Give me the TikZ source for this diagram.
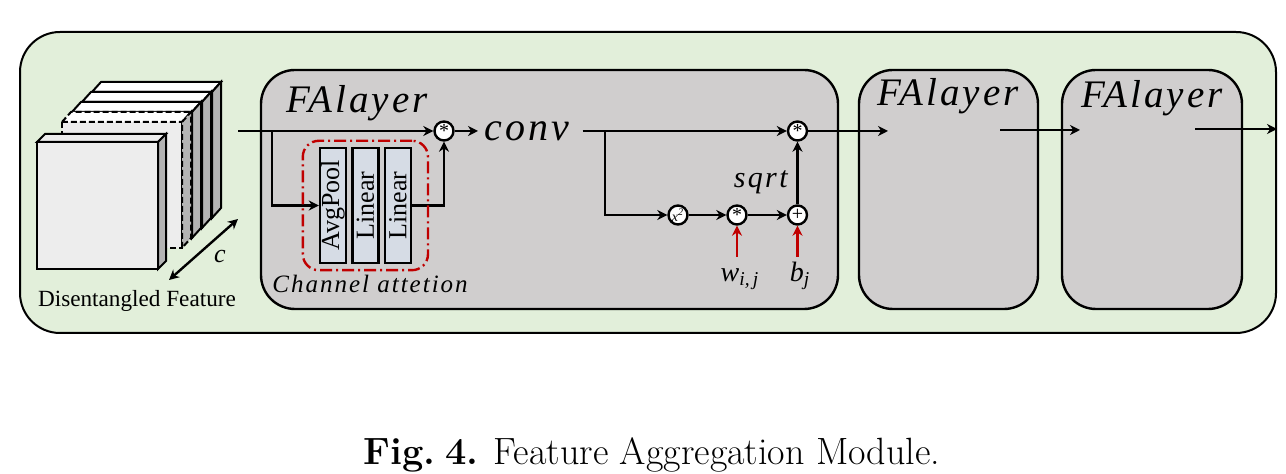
\documentclass[tikz,border=0pt]{standalone}
\usepackage{fontspec}
\newfontfamily\tnr{Liberation Serif}
\newfontfamily\tnrsp[LetterSpace=8]{Liberation Serif}
\usepackage{xcolor}
\usetikzlibrary{arrows.meta, positioning, fit, calc}
\definecolor{panelgreen}{HTML}{E2EFDA}
\definecolor{layergray}{HTML}{D0CECE}
\definecolor{linblue}{HTML}{D6DCE5}
\definecolor{darkred}{HTML}{C00000}
\definecolor{facegray}{HTML}{EDEDED}
\definecolor{sidegray}{HTML}{B4B4B4}
\newcommand{\opstar}{\raisebox{-0.35ex}{*}}

\begin{document}
\begin{tikzpicture}[
    x=0.5pt, y=-0.5pt, line width=1.2pt,
    >={Stealth[length=5pt,width=5pt,inset=1.6pt]},
    arr/.style={->},
    redarr/.style={->, draw=darkred, line width=1.3pt},
    falayer/.style={rectangle, draw, rounded corners=17pt, fill=layergray, minimum height=119.5pt},
    opnode/.style={circle, draw, fill=white, minimum size=9.5pt, inner sep=0pt, font=\tnr\fontsize{10}{10}\selectfont},
    calayer/.style={rectangle, draw, fill=linblue, minimum width=13pt, minimum height=57.5pt, inner sep=0pt, font=\tnr\fontsize{13}{13}\selectfont},
    latitle/.style={font=\tnrsp\itshape\fontsize{19.5}{20}\selectfont, inner sep=0pt},
]
\useasboundingbox (0,0) rectangle (1286,474);

% outer panel
\node[draw, line width=1pt, rounded corners=20pt, fill=panelgreen, minimum width=628pt, minimum height=150.5pt] (panel) at (648,182.5) {};

% feature cube
\begin{scope}[line width=1pt]
\foreach \cx/\cy in {92/92, 82/102, 72/112} {
  \filldraw[fill=facegray] (\cx,\cy) rectangle ++(120,126);
  \filldraw[fill=white] (\cx,\cy) -- ++(9,-10) -- ++(120,0) -- ++(-9,10) -- cycle;
  \filldraw[fill=sidegray] (\cx+120,\cy) -- ++(9,-10) -- ++(0,126) -- ++(-9,10) -- cycle;
}
\filldraw[fill=facegray, dash pattern=on 3pt off 1.5pt] (62,122) rectangle ++(120,126);
\filldraw[fill=white, dash pattern=on 3pt off 1.5pt] (62,122) -- ++(9,-10) -- ++(120,0) -- ++(-9,10) -- cycle;
\filldraw[fill=sidegray, dash pattern=on 3pt off 1.5pt] (182,122) -- ++(9,-10) -- ++(0,126) -- ++(-9,10) -- cycle;
\filldraw[fill=facegray] (37,142) rectangle ++(121,127);
\filldraw[fill=facegray] (37,142) -- ++(8,-8) -- ++(121,0) -- ++(-8,8) -- cycle;
\filldraw[fill=sidegray] (158,142) -- ++(8,-8) -- ++(0,127) -- ++(-8,8) -- cycle;
\end{scope}
\coordinate (cnear) at (169,280);
\coordinate (cfar) at (238,219);
\draw[<->] (cnear) -- (cfar);
\node[font=\tnr\itshape\fontsize{13}{13}\selectfont] (clab) at (220,257) {c};
\node[font=\tnr\fontsize{11.6}{13}\selectfont] (feat) at (137,301) {Disentangled Feature};

% FA layers
\node[falayer, minimum width=288.5pt] (fa1) at (549.5,189.5) {};
\node[latitle] (fa1t) at (357,103) {FAlayer};
\node[falayer, minimum width=89.5pt] (fa2) at (948.5,189.5) {};
\node[latitle] (fa2t) at (948,96) {FAlayer};
\node[falayer, minimum width=90pt] (fa3) at (1152,189.5) {};
\node[latitle] (fa3t) at (1152,98) {FAlayer};

% main flow
\coordinate (featin) at (238,131);
\node[opnode] (mulA) at (444,131) {\opstar};
\node[font=\tnrsp\itshape\fontsize{20}{20}\selectfont, inner sep=0pt, anchor=west] (conv) at (483,131) {conv};
\draw[arr] (featin) -- (mulA);
\draw[arr, shorten >=2.5pt] (mulA) -- (conv);
\node[opnode] (mulB) at (797.5,131) {\opstar};
\draw[arr, shorten <=6pt] (conv) -- (mulB);
\coordinate (split) at (605,131);
\node[opnode, font=\tnr\fontsize{7}{7}\selectfont] (sq) at (678,215) {\itshape x\textsuperscript{2}};
\node[opnode] (mulC) at (737,215) {\opstar};
\node[opnode] (add) at (797.5,215) {+};
\draw[arr] (split) |- (sq);
\draw[arr] (sq) -- (mulC);
\draw[arr] (mulC) -- (add);
\draw[arr] (add) -- node[pos=0.35, left=1pt, font=\tnrsp\itshape\fontsize{15}{15}\selectfont] (sqrtlab) {sqrt} (mulB);

% weights and bias
\coordinate (wsrc) at (737,257);
\coordinate (bsrc) at (797.5,257);
\draw[redarr] (wsrc) -- (mulC);
\draw[redarr] (bsrc) -- (add);
\node[font=\tnr\itshape\fontsize{14}{14}\selectfont] (wlab) at (740,279) {w\textsubscript{i,\,j}};
\node[font=\tnr\itshape\fontsize{14}{14}\selectfont] (blab) at (800,276) {b\textsubscript{j}};

% outputs
\coordinate (fa2in) at (888,131);
\coordinate (fa2out) at (1000,130);
\coordinate (fa3in) at (1080,130);
\coordinate (fa3out) at (1195,129);
\draw[arr] (mulB) -- (fa2in);
\draw[arr] (fa2out) -- (fa3in);
\draw[arr] (fa3out) -- (panel.east |- fa3out);

% channel attention
\node[calayer] (pool) at (333,205.5) {\rotatebox{90}{AvgPool}};
\node[calayer, right=2pt of pool] (lin1) {\rotatebox{90}{Linear}};
\node[calayer, right=2pt of lin1] (lin2) {\rotatebox{90}{Linear}};
\coordinate (cabr) at (272,131);
\draw[arr] (cabr) |- (pool);
\draw[arr] (lin2) -| (mulA);
\node[draw=darkred, dash pattern=on 6pt off 2pt on 1pt off 2pt, rounded corners=8pt, fit=(pool)(lin2), inner xsep=8pt, inner ysep=3pt] (cabox) {};
\node[font=\tnrsp\itshape\fontsize{12.5}{13}\selectfont] (calab) at (370,284) {Channel attetion};

% caption
\node (caption) at (652,455) {\fontsize{19}{22}\selectfont\textbf{Fig.\hspace{0.25em}4.} Feature Aggregation Module.};

\end{tikzpicture}
\end{document}
